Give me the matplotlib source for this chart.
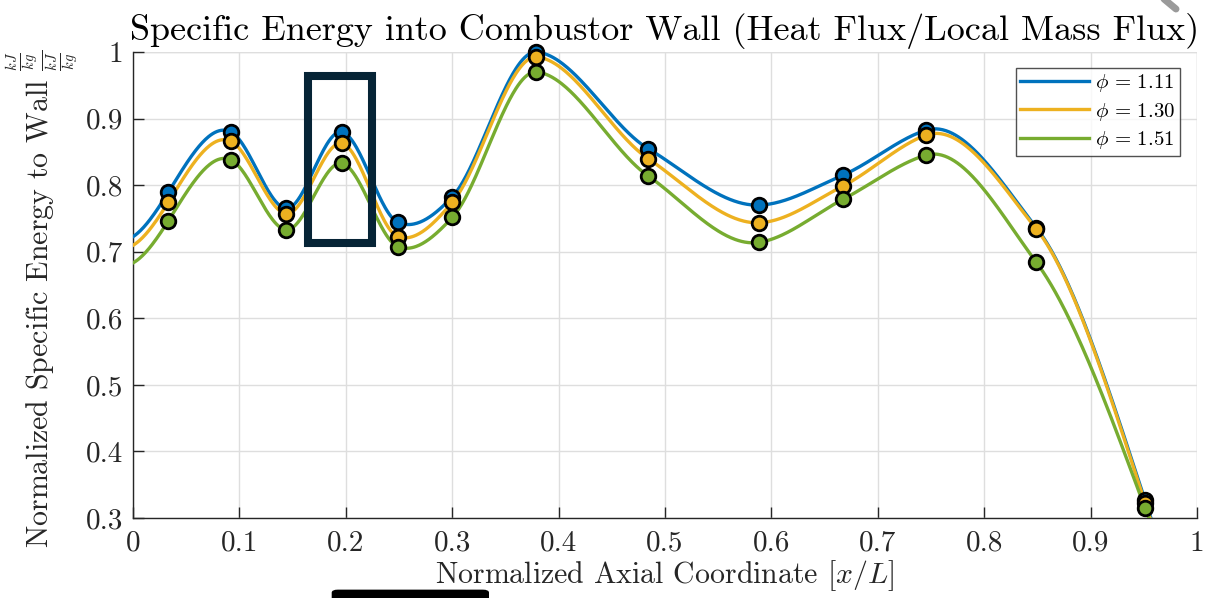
import numpy as np
import matplotlib
matplotlib.use("Agg")
import matplotlib.pyplot as plt
from matplotlib.patches import Rectangle, FancyBboxPatch
from matplotlib.lines import Line2D

plt.rcParams['font.family'] = ['cmr10', 'DejaVu Serif']
plt.rcParams['mathtext.fontset'] = 'cm'
plt.rcParams['axes.unicode_minus'] = False
plt.rcParams['axes.formatter.use_mathtext'] = False

# ---- data ----
x_pos = [0.033, 0.092, 0.1435, 0.196, 0.249, 0.300, 0.379, 0.484, 0.588, 0.667, 0.745, 0.849, 0.951]
e_111 = [0.789, 0.880, 0.765, 0.880, 0.744, 0.7825, 1.000, 0.855, 0.770, 0.815, 0.8825, 0.736, 0.327]
e_130 = [0.774, 0.866, 0.757, 0.863, 0.7225, 0.774, 0.9925, 0.840, 0.7435, 0.7985, 0.875, 0.734, 0.323]
e_151 = [0.746, 0.838, 0.733, 0.833, 0.7075, 0.7515, 0.970, 0.814, 0.714, 0.7785, 0.845, 0.684, 0.315]
labels = [r'$\phi\,=\,1.11$', r'$\phi\,=\,1.30$', r'$\phi\,=\,1.51$']
colors = ['#0072BD', '#EDB120', '#77AC30']
x_ticks = [0, 0.1, 0.2, 0.3, 0.4, 0.5, 0.6, 0.7, 0.8, 0.9, 1]
x_ticklabels = ['0', '0.1', '0.2', '0.3', '0.4', '0.5', '0.6', '0.7', '0.8', '0.9', '1']
y_ticks = [0.3, 0.4, 0.5, 0.6, 0.7, 0.8, 0.9, 1.0]
y_ticklabels = ['0.3', '0.4', '0.5', '0.6', '0.7', '0.8', '0.9', '1']


def makima(x, y):
    """Modified Akima piecewise cubic Hermite interpolation (like MATLAB makima)."""
    x = np.asarray(x, float)
    y = np.asarray(y, float)
    n = len(x)
    h = np.diff(x)
    d = np.diff(y) / h
    dm1 = 2 * d[0] - d[1]
    dm2 = 2 * dm1 - d[0]
    dp1 = 2 * d[-1] - d[-2]
    dp2 = 2 * dp1 - d[-1]
    de = np.concatenate([[dm2, dm1], d, [dp1, dp2]])
    s = np.zeros(n)
    for i in range(n):
        dl2, dl1, dr1, dr2 = de[i], de[i + 1], de[i + 2], de[i + 3]
        w1 = abs(dr2 - dr1) + abs(dr2 + dr1) / 2
        w2 = abs(dl1 - dl2) + abs(dl1 + dl2) / 2
        if w1 + w2 == 0:
            s[i] = 0.5 * (dl1 + dr1)
        else:
            s[i] = (w1 * dl1 + w2 * dr1) / (w1 + w2)

    def f(t):
        t = np.asarray(t, float)
        idx = np.clip(np.searchsorted(x, t) - 1, 0, n - 2)
        hi = h[idx]
        u = (t - x[idx]) / hi
        h00 = 2 * u ** 3 - 3 * u ** 2 + 1
        h10 = u ** 3 - 2 * u ** 2 + u
        h01 = -2 * u ** 3 + 3 * u ** 2
        h11 = u ** 3 - u ** 2
        return h00 * y[idx] + h10 * hi * s[idx] + h01 * y[idx + 1] + h11 * hi * s[idx + 1]
    return f


fig = plt.figure(figsize=(12.24, 5.98), dpi=100)
ax = fig.add_axes([0.1087, 0.1338, 0.978 - 0.1087, 0.913 - 0.1338])

xx = np.linspace(0, 1, 1001)
series = [e_111, e_130, e_151]
handles = []
for vals, c, lab in zip(series, colors, labels):
    f = makima(x_pos, vals)
    h, = ax.plot(xx, f(xx), color=c, lw=2.4, label=lab, zorder=3)
    handles.append(h)
for vals, c in zip(series, colors):
    ax.plot(x_pos, vals, 'o', ls='none', ms=10.5, mfc=c, mec='black', mew=2.0, zorder=4,
            clip_on=False)

ax.set_xlim(0, 1)
ax.set_ylim(0.3, 1.0)
ax.set_xticks(x_ticks)
ax.set_xticklabels(x_ticklabels)
ax.set_yticks(y_ticks)
ax.set_yticklabels(y_ticklabels)
ax.tick_params(direction='in', length=8, width=1.0, labelsize=21, color='#262626',
               labelcolor='#262626')
ax.tick_params(axis='x', pad=9)
ax.tick_params(axis='y', pad=7)
ax.grid(True, color='#dedede', lw=1.0, zorder=0)
ax.set_axisbelow(True)
for s in ['top', 'right']:
    ax.spines[s].set_visible(False)
for s in ['left', 'bottom']:
    ax.spines[s].set_color('#262626')
    ax.spines[s].set_linewidth(1.0)
ax.axhline(1.0, color='#dedede', lw=1.0, zorder=0)
ax.axvline(1.0, color='#dedede', lw=1.0, zorder=0)

ax.set_title('Specific Energy into Combustor Wall (Heat Flux/Local Mass Flux)',
             fontsize=26, pad=9, color='black')
ax.set_xlabel(r'Normalized Axial Coordinate $[x/L]$', fontsize=21.5, labelpad=1, color='#262626')
ax.set_ylabel(r'Normalized Specific Energy to Wall $\frac{\frac{kJ}{kg}}{\frac{kJ}{kg}}$',
              fontsize=21.5, color='#262626')
ax.yaxis.set_label_coords(-0.049, 0.47)

leg = ax.legend(handles=handles, loc='upper right', bbox_to_anchor=(0.984, 0.966),
                fontsize=15, frameon=True, fancybox=False, edgecolor='#262626',
                handlelength=3.3, handletextpad=0.3, borderpad=0.22, labelspacing=0.3,
                borderaxespad=0)
leg.get_frame().set_linewidth(1.0)

# highlight rectangle annotation
ax.add_patch(Rectangle((0.1648, 0.7134), 0.2248 - 0.1648, 0.9633 - 0.7134, fill=False,
                       ec='#062436', lw=5.8, zorder=5, clip_on=False))

# overlay artifacts from the screenshot
fig.patches.append(FancyBboxPatch((331.7 / 1224, -0.01), (489 - 331.7) / 1224, 0.024,
                                  boxstyle='round,pad=0,rounding_size=0.005',
                                  transform=fig.transFigure, fc='black', ec='none'))
fig.lines.append(Line2D([1158 / 1224, 1176 / 1224], [1.01, 1 - 9 / 598],
                        transform=fig.transFigure, color='#9a9a9a', lw=5,
                        solid_capstyle='round'))

fig.savefig('out.png', dpi=100)
